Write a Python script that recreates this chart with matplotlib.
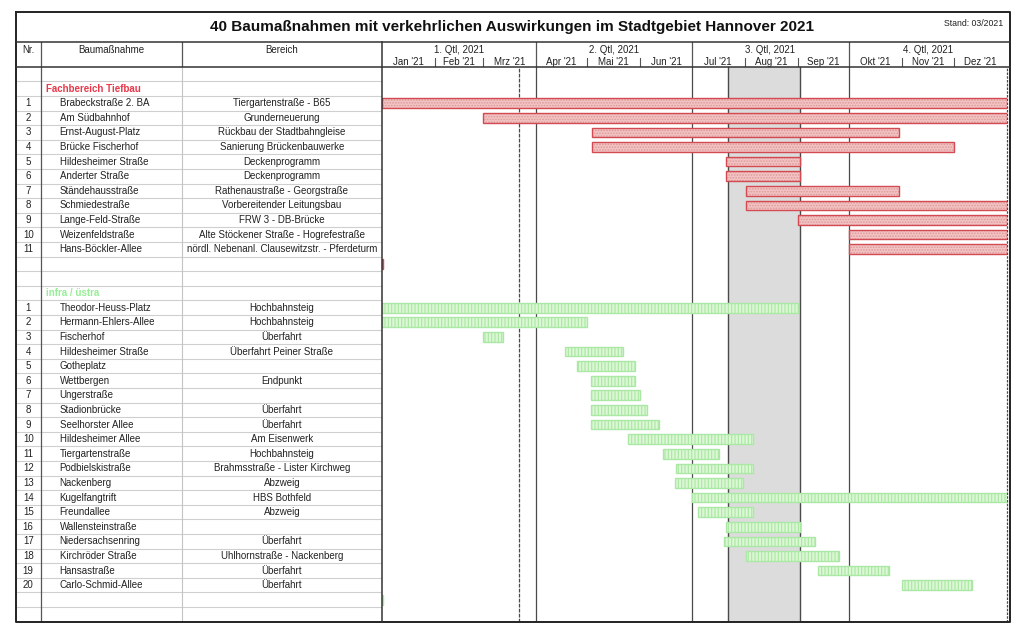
#!/usr/bin/env python3
from __future__ import annotations

import matplotlib

matplotlib.use("Agg")
import matplotlib.pyplot as plt
import pandas as pd

W, H = 1024, 631
YEAR_START = pd.Timestamp("2021-01-01")

TITLE = "40 Baumaßnahmen mit verkehrlichen Auswirkungen im Stadtgebiet Hannover 2021"
STAND = "Stand: 03/2021"

tiefbau_names = [
    "Brabeckstraße 2. BA", "Am Südbahnhof", "Ernst-August-Platz", "Brücke Fischerhof",
    "Hildesheimer Straße", "Anderter Straße", "Ständehausstraße", "Schmiedestraße",
    "Lange-Feld-Straße", "Weizenfeldstraße", "Hans-Böckler-Allee",
]
tiefbau_areas = [
    "Tiergartenstraße - B65", "Grunderneuerung", "Rückbau der Stadtbahngleise",
    "Sanierung Brückenbauwerke", "Deckenprogramm", "Deckenprogramm",
    "Rathenaustraße - Georgstraße", "Vorbereitender Leitungsbau", "FRW 3 - DB-Brücke",
    "Alte Stöckener Straße - Hogrefestraße", "nördl. Nebenanl. Clausewitzstr. - Pferdeturm",
]
tiefbau_start = [
    "2021-01-01", "2021-03-01", "2021-05-04", "2021-05-04", "2021-07-21", "2021-07-21",
    "2021-08-02", "2021-08-02", "2021-09-01", "2021-10-01", "2021-10-01",
]
tiefbau_end = [
    "2021-12-31", "2021-12-31", "2021-10-29", "2021-11-30", "2021-09-01", "2021-09-01",
    "2021-10-29", "2021-12-31", "2021-12-31", "2021-12-31", "2021-12-31",
]

ustra_names = [
    "Theodor-Heuss-Platz", "Hermann-Ehlers-Allee", "Fischerhof", "Hildesheimer Straße",
    "Gotheplatz", "Wettbergen", "Ungerstraße", "Stadionbrücke", "Seelhorster Allee",
    "Hildesheimer Allee", "Tiergartenstraße", "Podbielskistraße", "Nackenberg",
    "Kugelfangtrift", "Freundallee", "Wallensteinstraße", "Niedersachsenring",
    "Kirchröder Straße", "Hansastraße", "Carlo-Schmid-Allee",
]
ustra_areas = [
    "Hochbahnsteig", "Hochbahnsteig", "Überfahrt", "Überfahrt Peiner Straße", "",
    "Endpunkt", "", "Überfahrt", "Überfahrt", "Am Eisenwerk", "Hochbahnsteig",
    "Brahmsstraße - Lister Kirchweg", "Abzweig", "HBS Bothfeld", "Abzweig", "",
    "Überfahrt", "Uhlhornstraße - Nackenberg", "Überfahrt", "Überfahrt",
]
ustra_start = [
    "2021-01-01", "2021-01-01", "2021-03-01", "2021-04-18", "2021-04-25", "2021-05-03",
    "2021-05-03", "2021-05-03", "2021-05-03", "2021-05-25", "2021-06-14", "2021-06-22",
    "2021-06-21", "2021-07-01", "2021-07-05", "2021-07-21", "2021-07-20", "2021-08-02",
    "2021-09-13", "2021-11-01",
]
ustra_end = [
    "2021-08-31", "2021-04-30", "2021-03-12", "2021-05-21", "2021-05-28", "2021-05-28",
    "2021-05-31", "2021-06-04", "2021-06-11", "2021-08-05", "2021-07-16", "2021-08-05",
    "2021-07-30", "2021-12-31", "2021-08-05", "2021-09-01", "2021-09-10", "2021-09-24",
    "2021-10-23", "2021-12-11",
]

# leftover one-day entries in the blank row below each block
tiefbau_stub = ("2021-01-01", "2021-01-01")
ustra_stub = ("2021-01-01", "2021-01-01")

month_labels = ["Jan '21", "Feb '21", "Mrz '21", "Apr '21", "Mai '21", "Jun '21",
                "Jul '21", "Aug '21", "Sep '21", "Okt '21", "Nov '21", "Dez '21"]
quarter_labels = ["1. Qtl, 2021", "2. Qtl, 2021", "3. Qtl, 2021", "4. Qtl, 2021"]
summer_holidays = ("2021-07-22", "2021-09-01")
status_date = "2021-03-22"

GROUPS = {
    "tiefbau": {"label": "Fachbereich Tiefbau", "text": "#e8384a",
                "fill": "#f3c3c3", "hatch": "#dc9a9a", "edge": "#d44a52", "hatch_pat": "......"},
    "ustra": {"label": "infra / üstra", "text": "#96ee96",
              "fill": "#dcf7d6", "hatch": "#a9e8a1", "edge": "#ace8a5", "hatch_pat": "|||||"},
}

# layout in pixels
X0, X_NR, X_NAME, X_AREA, X_CHART, X_CHART_END, X1 = 15.7, 40.7, 182.0, 381.7, 381.7, 1006.7, 1009.5
Y0, Y_HEAD, Y_BODY, Y1 = 12.3, 41.7, 66.7, 621.7


def day(value: str) -> int:
    return (pd.Timestamp(value) - YEAR_START).days


def build_rows() -> pd.DataFrame:
    rows: list[dict] = [{"kind": "blank"}]
    blocks = [
        ("tiefbau", tiefbau_names, tiefbau_areas, tiefbau_start, tiefbau_end, tiefbau_stub),
        ("ustra", ustra_names, ustra_areas, ustra_start, ustra_end, ustra_stub),
    ]
    for key, names, areas, starts, ends, stub in blocks:
        rows.append({"kind": "group", "group": key, "name": GROUPS[key]["label"]})
        for nr, (name, area, s, e) in enumerate(zip(names, areas, starts, ends), 1):
            rows.append({"kind": "task", "group": key, "nr": nr, "name": name, "area": area,
                         "start": day(s), "end": day(e) + 1})
        rows.append({"kind": "stub", "group": key, "start": day(stub[0]), "end": day(stub[1]) + 1})
        rows.append({"kind": "blank"})
    df = pd.DataFrame(rows)
    df["y"] = df.index + 0.5
    return df


def px_axes(fig, x0: float, y0: float, x1: float, y1: float):
    ax = fig.add_axes([x0 / W, 1 - y1 / H, (x1 - x0) / W, (y1 - y0) / H])
    ax.set_axis_off()
    return ax


def main() -> None:
    plt.rcParams["font.family"] = ["Liberation Sans", "DejaVu Sans"]
    plt.rcParams["hatch.linewidth"] = 0.8
    df = build_rows()
    n_rows = len(df)
    text_kw = dict(fontsize=7.0, color="#222222", va="center")

    fig = plt.figure(figsize=(W / 100, H / 100), dpi=100)
    fig.patch.set_facecolor("white")

    # table body
    ax_t = px_axes(fig, X0, Y_BODY, X_AREA, Y1)
    ax_t.set_xlim(X0, X_AREA)
    ax_t.set_ylim(n_rows, 0)
    for i in range(1, n_rows):
        ax_t.axhline(i, color="#cfcfcf", lw=0.8)
    ax_t.axvline(X_NAME, color="#c4c4c4", lw=0.8)
    ax_t.axvline(X_NR, color="#555555", lw=0.9)
    for _, r in df.iterrows():
        if r["kind"] == "group":
            ax_t.text(X_NR + 5, r["y"], r["name"], fontsize=7.0, fontweight="bold",
                      color=GROUPS[r["group"]]["text"], va="center")
        elif r["kind"] == "task":
            ax_t.text((X0 + X_NR) / 2, r["y"], str(int(r["nr"])), ha="center", **text_kw)
            ax_t.text(X_NR + 19, r["y"], r["name"], ha="left", **text_kw)
            ax_t.text((X_NAME + X_AREA) / 2, r["y"], r["area"], ha="center", **text_kw)

    # table header
    ax_th = px_axes(fig, X0, Y_HEAD, X_AREA, Y_BODY)
    ax_th.set_xlim(X0, X_AREA)
    ax_th.set_ylim(1, 0)
    ax_th.axvline(X_NR, color="#555555", lw=0.9)
    ax_th.axvline(X_NAME, color="#555555", lw=0.9)
    for x, label in [((X0 + X_NR) / 2, "Nr."), ((X_NR + X_NAME) / 2, "Baumaßnahme"),
                     ((X_NAME + X_AREA) / 2, "Bereich")]:
        ax_th.text(x, 0.35, label, ha="center", **text_kw)

    # gantt body
    ax_g = px_axes(fig, X_CHART, Y_BODY, X_CHART_END, Y1)
    ax_g.set_xlim(0, 365)
    ax_g.set_ylim(n_rows, 0)
    ax_g.axvspan(day(summer_holidays[0]), day(summer_holidays[1]) + 1, color="#dcdcdc", lw=0, zorder=0)
    for d in (day(summer_holidays[0]), day(summer_holidays[1]) + 1):
        ax_g.axvline(d, color="#4a4a4a", lw=1.0, zorder=1)
    for d in (90, 181, 273):
        ax_g.axvline(d, color="#4a4a4a", lw=0.9, zorder=1)
    ax_g.axvline(day(status_date), color="#4a4a4a", lw=0.9, ls=(0, (3, 1)), zorder=1)
    ax_g.axvline(365, color="#4a4a4a", lw=0.9, ls=(0, (2, 1)), zorder=1, clip_on=False)

    bars = df[df["kind"].isin(["task", "stub"])]
    for key, style in GROUPS.items():
        sub = bars[bars["group"] == key]
        widths = sub["end"] - sub["start"]
        ax_g.barh(sub["y"], widths, left=sub["start"], height=0.66, color=style["fill"],
                  edgecolor=style["hatch"], hatch=style["hatch_pat"], lw=0, zorder=2)
        ax_g.barh(sub["y"], widths, left=sub["start"], height=0.66, fill=False,
                  edgecolor=style["edge"], lw=1.0, zorder=3)

    # gantt header
    ax_gh = px_axes(fig, X_CHART, Y_HEAD, X_CHART_END, Y_BODY)
    ax_gh.set_xlim(0, 365)
    ax_gh.set_ylim(1, 0)
    month_starts = [day(f"2021-{m:02d}-01") for m in range(1, 13)] + [365]
    for i, label in enumerate(month_labels):
        ax_gh.text((month_starts[i] + month_starts[i + 1]) / 2, 0.82, label, ha="center", **text_kw)
        if i % 3 != 0:
            ax_gh.plot([month_starts[i]] * 2, [0.66, 1.0], color="#555555", lw=0.8)
    for q, label in enumerate(quarter_labels):
        a, b = month_starts[3 * q], month_starts[3 * q + 3]
        ax_gh.text((a + b) / 2, 0.35, label, ha="center", **text_kw)
        if q > 0:
            ax_gh.plot([a, a], [0, 1], color="#555555", lw=0.9)

    # frame, title
    ax_f = px_axes(fig, 0, 0, W, H)
    ax_f.set_xlim(0, W)
    ax_f.set_ylim(H, 0)
    ax_f.set_zorder(10)
    frame_kw = dict(color="#333333", lw=1.1)
    ax_f.plot([X0, X1, X1, X0, X0], [Y0, Y0, Y1, Y1, Y0], color="#222222", lw=1.4)
    ax_f.plot([X0, X1], [Y_HEAD, Y_HEAD], **frame_kw)
    ax_f.plot([X0, X1], [Y_BODY, Y_BODY], **frame_kw)
    ax_f.plot([X_CHART, X_CHART], [Y_HEAD, Y1], **frame_kw)
    ax_f.text(512, 27, TITLE, ha="center", va="center", fontsize=11, fontweight="bold", color="#111111")
    ax_f.text(1003, 23, STAND, ha="right", va="center", fontsize=6.3, color="#222222")

    fig.savefig("out.png", dpi=100)
    plt.close(fig)


if __name__ == "__main__":
    main()
